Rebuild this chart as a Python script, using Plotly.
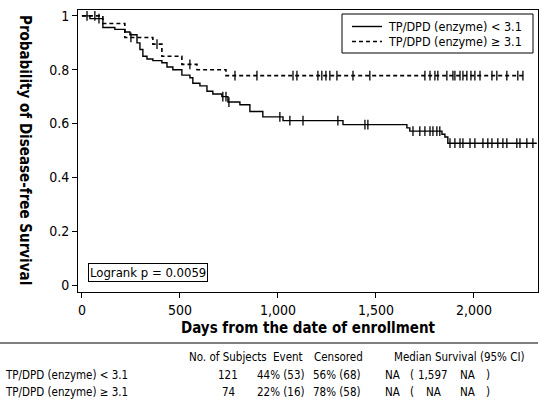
import numpy as np
import plotly.graph_objects as go

# ---------------- data ----------------
# Group A: TP/DPD (enzyme) < 3.1
a_event_days = [41, 107, 168, 219, 245, 281, 296, 311, 332, 362, 408, 434, 464, 510, 551,
                566, 602, 638, 668, 714, 745, 806, 857, 923, 1026, 1332, 1658, 1673,
                1837, 1852, 1867]
a_surv = [0.99, 0.957, 0.95, 0.94, 0.93, 0.90, 0.875, 0.85, 0.84, 0.834, 0.826, 0.81, 0.80,
          0.78, 0.77, 0.75, 0.74, 0.72, 0.71, 0.70, 0.68, 0.67, 0.645, 0.625, 0.611, 0.596,
          0.584, 0.572, 0.56, 0.55, 0.527]
a_censor_days = [87, 719, 735, 750, 1010, 1061, 1128, 1306, 1444, 1459, 1689, 1724, 1750,
                 1776, 1791, 1811, 1826, 1878, 1903, 1929, 1944, 1980, 2005, 2046, 2071,
                 2092, 2122, 2148, 2168, 2219, 2235, 2270, 2301]
a_last_day = 2321

# Group B: TP/DPD (enzyme) >= 3.1
b_event_days = [107, 219, 362, 408, 510, 587, 735]
b_surv = [0.972, 0.92, 0.895, 0.85, 0.82, 0.80, 0.778]
b_censor_days = [26, 66, 250, 383, 551, 781, 893, 1077, 1097, 1204, 1224, 1245, 1265, 1301,
                 1383, 1469, 1750, 1776, 1801, 1816, 1862, 1893, 1903, 1929, 1944, 1964,
                 1985, 2005, 2031, 2092, 2117, 2168, 2224, 2250]
b_last_day = 2250

group_names = ["TP/DPD (enzyme) < 3.1", "TP/DPD (enzyme) \u2265 3.1"]
x_ticks = [0, 500, 1000, 1500, 2000]
x_tick_labels = ["0", "500", "1,000", "1,500", "2,000"]
y_ticks = [0, 0.2, 0.4, 0.6, 0.8, 1]
y_tick_labels = ["0", "0.2", "0.4", "0.6", "0.8", "1"]

table_header = ["No. of Subjects", "Event", "Censored", "Median Survival (95% CI)"]
n_subjects = ["121", "74"]
events = ["44% (53)", "22% (16)"]
censored = ["56% (68)", "78% (58)"]
median = ["NA", "NA"]
ci_low = ["1,597", "NA"]
ci_high = ["NA", "NA"]
logrank_text = "Logrank p = 0.0059"

FONT = "Liberation Sans Narrow, DejaVu Sans Condensed, Arial Narrow, sans-serif"
W, H = 541, 410
L, R, T, B = 78, 3, 10, 118


def step_curve(ev, sv, last):
    xs = [0] + list(ev) + [last]
    ys = [1.0] + list(sv) + [sv[-1]]
    return xs, ys


def surv_at(ev, sv, t):
    ev = np.asarray(ev)
    sv = np.asarray(sv)
    idx = np.searchsorted(ev, np.asarray(t), side="right") - 1
    return np.where(idx >= 0, sv[np.clip(idx, 0, None)], 1.0)


def px(x):
    return (x - L) / (W - L - R)


def py(y):
    return (H - B - y) / (H - T - B)


fig = go.Figure()
styles = [dict(color="black", width=1.4), dict(color="black", width=1.6, dash="4px,3px")]
datasets = [(a_event_days, a_surv, a_censor_days, a_last_day),
            (b_event_days, b_surv, b_censor_days, b_last_day)]
for name, st, (ev, sv, cd, last) in zip(group_names, styles, datasets):
    xs, ys = step_curve(ev, sv, last)
    fig.add_trace(go.Scatter(x=xs, y=ys, mode="lines", line_shape="hv", line=st, name=name,
                             showlegend=False))
    fig.add_trace(go.Scatter(x=cd, y=surv_at(ev, sv, cd), mode="markers", showlegend=False,
                             marker=dict(symbol="line-ns-open", size=7, color="black",
                                         line=dict(color="black", width=1.3))))

fig.update_layout(
    width=W, height=H, margin=dict(l=L, r=R, t=T, b=B),
    paper_bgcolor="white", plot_bgcolor="white",
    font=dict(family=FONT, color="black", size=13),
    showlegend=False,
    xaxis=dict(range=[-20, 2327], tickvals=x_ticks, ticktext=x_tick_labels, showgrid=False,
               zeroline=False, showline=True, linecolor="black", linewidth=1, mirror=True,
               ticks="outside", ticklen=5, tickcolor="black", tickfont=dict(size=14)),
    yaxis=dict(range=[-0.026, 1.022], tickvals=y_ticks, ticktext=y_tick_labels, showgrid=False,
               zeroline=False, showline=True, linecolor="black", linewidth=1, mirror=True,
               ticks="outside", ticklen=5, tickcolor="black", tickfont=dict(size=14)),
)


def text(t, x, y, xa="center", ya="middle", **kw):
    d = dict(text=t, x=px(x), y=py(y), xref="paper", yref="paper", xanchor=xa, yanchor=ya,
             showarrow=False)
    d.update(kw)
    return d


ann = []
ann.append(text("<b>Days from the date of enrollment</b>", 308, 328, font=dict(size=15)))
ann.append(text("<b>Probability of Disease-free Survival</b>", 25, 150, textangle=90,
                font=dict(size=15)))
ann.append(text(logrank_text, 88, 282, xa="left", ya="bottom", bordercolor="black",
                borderwidth=1, borderpad=1, bgcolor="white", font=dict(size=13)))

# legend (box, line samples, labels)
shapes = []
shapes.append(dict(type="rect", xref="paper", yref="paper", x0=px(342), x1=px(533),
                   y0=py(14), y1=py(53), line=dict(color="black", width=1),
                   fillcolor="white", layer="below"))
leg_y = [26.5, 41.5]
for i, st in enumerate(styles):
    shapes.append(dict(type="line", xref="paper", yref="paper", x0=px(352), x1=px(382),
                       y0=py(leg_y[i]), y1=py(leg_y[i]), line=st))
    ann.append(text(group_names[i], 386, leg_y[i], xa="left", font=dict(size=12.5)))

TS = 11.5
row_y = [375, 392]
header_x = [228, 288, 338, 459]
for hx, txt in zip(header_x, table_header):
    ann.append(text(txt, hx, 357, font=dict(size=TS)))
for i in range(2):
    cells = [(3, group_names[i], "left"), (228, n_subjects[i], "center"),
             (281, events[i], "center"), (337, censored[i], "center"),
             (392, median[i], "center"), (412, "(", "center"), (433, ci_low[i], "center"),
             (467, ci_high[i], "center"), (488, ")", "center")]
    for cx, txt, anc in cells:
        ann.append(text(txt, cx, row_y[i], xa=anc, font=dict(size=TS)))
shapes.append(dict(type="line", xref="paper", yref="paper", x0=px(0), x1=px(538),
                   y0=py(343), y1=py(343), line=dict(color="black", width=1)))
fig.update_layout(annotations=ann, shapes=shapes)

fig.write_html("out.html")
